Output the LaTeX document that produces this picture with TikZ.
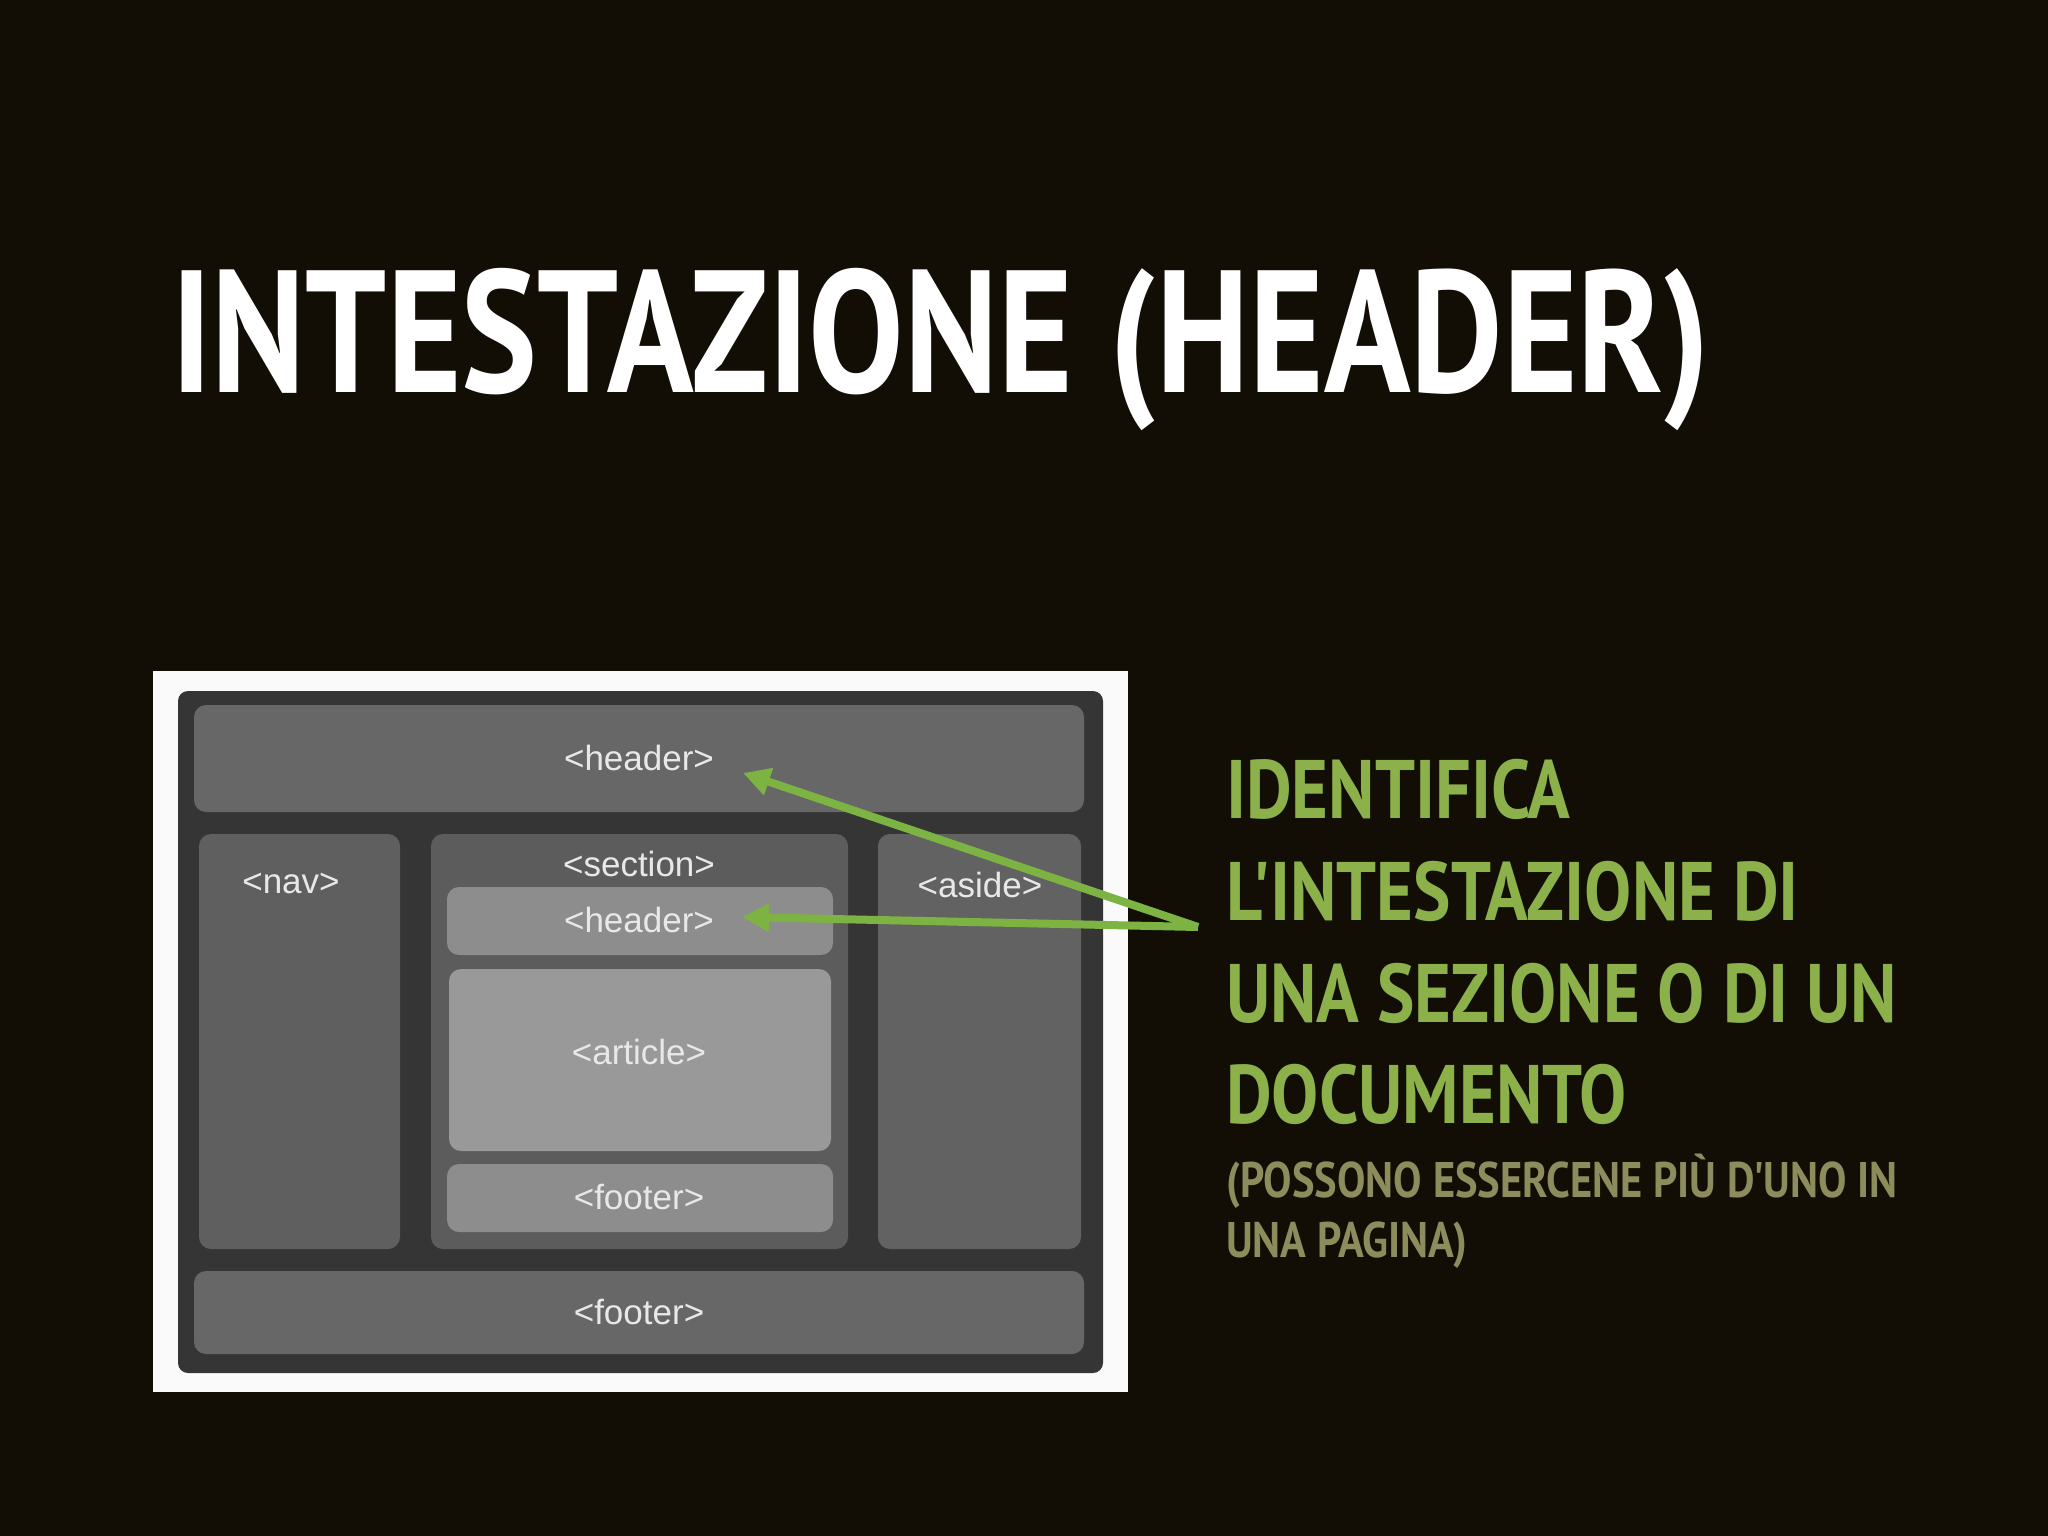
\documentclass[tikz,border=0pt]{standalone}
\usepackage{fontspec}
\setmainfont{PT Sans}
\newfontfamily\nbtitle{PT Sans}[FakeStretch=0.822,Ligatures=TeXOff]
\newfontfamily\nbtext{PT Sans}[FakeStretch=0.85,Ligatures=TeXOff]
\newfontfamily\labfont{Liberation Sans}
\usetikzlibrary{arrows.meta}
\definecolor{bg}{HTML}{120E05}
\definecolor{framewhite}{HTML}{FAFAFA}
\definecolor{outerdark}{HTML}{353535}
\definecolor{midgrey}{HTML}{676767}
\definecolor{colgrey}{HTML}{5F5F5F}
\definecolor{lightgrey}{HTML}{8D8D8D}
\definecolor{artgrey}{HTML}{999999}
\definecolor{labtext}{HTML}{E8E8E8}
\definecolor{titlegreen}{HTML}{8CB14B}
\definecolor{arrgreen}{HTML}{7CB342}
\definecolor{olive}{HTML}{8C8C5C}
\tikzset{
  box/.style={rounded corners=12pt, inner sep=0pt, outer sep=0pt, anchor=north west, draw=none},
  lbl/.style={font=\labfont\fontsize{35}{35}\selectfont, text=labtext, inner sep=0pt},
  bigline/.style={anchor=base west, inner sep=0pt, text=titlegreen, font=\nbtext\bfseries\fontsize{83}{83}\selectfont},
  smallline/.style={anchor=base west, inner sep=0pt, text=olive, font=\nbtext\bfseries\fontsize{50}{50}\selectfont},
  arr/.style={draw=arrgreen, line width=8pt, -{Triangle[length=27pt,width=27pt]}}
}
\begin{document}
\begin{tikzpicture}[x=1pt,y=-1pt]
\fill[bg] (0,0) rectangle (2048,1536);
\useasboundingbox (0,0) rectangle (2048,1536);

% title
\node[anchor=base west, inner sep=0pt, text=white, font=\nbtitle\bfseries\fontsize{174}{174}\selectfont] (title) at (171,392) {INTESTAZIONE (HEADER)};

% layout picture
\node[box, rounded corners=0pt, fill=framewhite, minimum width=975pt, minimum height=721pt] (frame) at (153,671) {};
\node[box, rounded corners=10pt, fill=outerdark, minimum width=925pt, minimum height=682pt] (outer) at (178,691) {};
\node[box, fill=midgrey, minimum width=890pt, minimum height=107pt] (hdrbox) at (194,705) {};
\node[box, fill=colgrey, minimum width=201pt, minimum height=415pt] (navbox) at (199,834) {};
\node[box, fill=colgrey!97!black, minimum width=417pt, minimum height=415pt] (secbox) at (431,834) {};
\node[box, fill=colgrey!98!white, minimum width=203pt, minimum height=415pt] (asidebox) at (878,834) {};
\node[box, fill=lightgrey, minimum width=386pt, minimum height=68pt] (ihdrbox) at (447,887) {};
\node[box, fill=artgrey, minimum width=382pt, minimum height=182pt] (artbox) at (449,969) {};
\node[box, fill=lightgrey, minimum width=386pt, minimum height=68pt] (iftrbox) at (447,1164) {};
\node[box, fill=midgrey, minimum width=890pt, minimum height=83pt] (ftrbox) at (194,1271) {};

\node[lbl] (thdr) at (639,758) {<header>};
\node[lbl] (tnav) at (291,883) {<nav>};
\node[lbl] (tsec) at (639,864) {<section>};
\node[lbl] (taside) at (980,885) {<aside>};
\node[lbl] (tihdr) at (639,920) {<header>};
\node[lbl] (tart) at (639,1052) {<article>};
\node[lbl] (tiftr) at (639,1197) {<footer>};
\node[lbl] (tftr) at (639,1312) {<footer>};

% arrows
\coordinate (src) at (1198,927);
\coordinate (tip1) at (743,773);
\coordinate (tip2) at (742,917);
\draw[arr] (src) -- (tip1);
\draw[arr] (src) -- (tip2);

% right text
\node[bigline] (r1) at (1226,818) {IDENTIFICA};
\node[bigline] (r2) at (1226,920) {L'INTESTAZIONE DI};
\node[bigline] (r3) at (1226,1022) {UNA SEZIONE O DI UN};
\node[bigline] (r4) at (1226,1123) {DOCUMENTO};
\node[smallline] (s1) at (1226,1197) {(POSSONO ESSERCENE PIÙ D'UNO IN};
\node[smallline] (s2) at (1226,1257) {UNA PAGINA)};
\end{tikzpicture}
\end{document}
